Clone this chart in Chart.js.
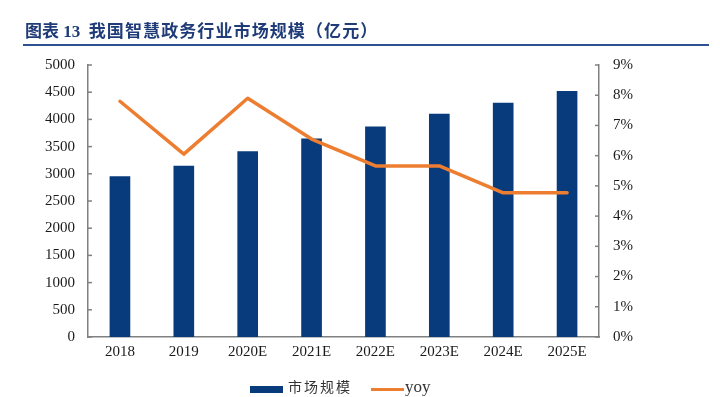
<!DOCTYPE html>
<html>
<head>
<meta charset="utf-8">
<script src="https://cdn.jsdelivr.net/npm/chart.js@4/dist/chart.umd.min.js"></script>
<style>
  html, body { margin: 0; padding: 0; background: #fff; }
  #wrap { position: relative; width: 720px; height: 397px; overflow: hidden; }
  #c { position: absolute; left: 0; top: 0; }
  #title { position: absolute; left: 25px; top: 21px; font-family: "Liberation Serif", "Noto Sans CJK SC", serif; font-weight: bold; font-size: 17px; line-height: 22px; color: #1F3C78; white-space: nowrap; }
  #title .cjk { letter-spacing: 1.1px; }
  #rule { position: absolute; left: 23px; top: 44px; width: 686px; height: 2px; background: #2E528F; }
  #legend { position: absolute; left: 250px; top: 376px; height: 20px; font-family: "Noto Sans CJK SC", sans-serif; font-size: 14px; color: #333; white-space: nowrap; }
  .sw { position: absolute; }
  .lt { position: absolute; top: 0; line-height: 20px; }
</style>
</head>
<body>
<div id="wrap">
  <canvas id="c" width="720" height="397"></canvas>
  <div id="title">图表 13 &nbsp;<span class="cjk">我国智慧政务行业市场规模（亿元）</span></div>
  <div id="rule"></div>
  <div id="legend">
    <div class="sw" style="left:0px; top:10px; width:33px; height:7px; background:#073B7B;"></div>
    <div class="lt" style="left:38px; letter-spacing:2px;">市场规模</div>
    <div class="sw" style="left:121px; top:12px; width:33px; height:3px; background:#ED7D31;"></div>
    <div class="lt" style="left:155px; top:1px; font-family:'Liberation Serif', serif; font-size:17px;">yoy</div>
  </div>
</div>
<script>
const categories = ["2018", "2019", "2020E", "2021E", "2022E", "2023E", "2024E", "2025E"];
const marketSize = [2950, 3140, 3410, 3645, 3865, 4100, 4300, 4515];
const yoy = [7.8, 6.05, 7.9, 6.55, 5.66, 5.66, 4.77, 4.77];
const leftMax = 5000, leftStep = 500;
const rightMax = 9, rightStep = 1;

const axisColor = '#808080';
const tickFont = { family: "'Liberation Serif', 'Times New Roman', serif", size: 15 };

const innerTicks = {
  id: 'innerTicks',
  afterDraw(chart) {
    const ctx = chart.ctx;
    ctx.save();
    ctx.strokeStyle = axisColor;
    ctx.lineWidth = 1.5;
    const ys = chart.scales.y, yr = chart.scales.y1;
    const area = chart.chartArea;
    ys.ticks.forEach((t, i) => {
      const p = ys.getPixelForTick(i);
      ctx.beginPath(); ctx.moveTo(area.left, p); ctx.lineTo(area.left + 4, p); ctx.stroke();
    });
    yr.ticks.forEach((t, i) => {
      const p = yr.getPixelForTick(i);
      ctx.beginPath(); ctx.moveTo(area.right - 4, p); ctx.lineTo(area.right, p); ctx.stroke();
    });
    ctx.restore();
  }
};

new Chart(document.getElementById('c'), {
  data: {
    labels: categories,
    datasets: [
      {
        type: 'line', label: 'yoy', data: yoy, yAxisID: 'y1', order: 0,
        borderColor: '#ED7D31', borderWidth: 3.5, pointRadius: 0, tension: 0,
        borderCapStyle: 'round', borderJoinStyle: 'round', fill: false
      },
      {
        type: 'bar', label: '市场规模', data: marketSize, yAxisID: 'y', order: 1,
        backgroundColor: '#073B7B', barThickness: 20
      }
    ]
  },
  options: {
    responsive: false,
    animation: false,
    devicePixelRatio: 1,
    layout: { padding: { left: 0, right: 0, top: 65, bottom: 30 } },
    plugins: { legend: { display: false }, tooltip: { enabled: false } },
    scales: {
      x: {
        offset: true,
        grid: { display: false, drawTicks: false },
        border: { display: true, color: axisColor, width: 1.5 },
        ticks: { font: tickFont, color: '#1a1a1a', padding: 6, maxRotation: 0 },
        afterFit(s) { s.height = 30; }
      },
      y: {
        position: 'left', min: 0, max: leftMax,
        grid: { display: false, drawTicks: false },
        border: { display: true, color: axisColor, width: 1.5 },
        ticks: { stepSize: leftStep, font: tickFont, color: '#1a1a1a', padding: 13,
          callback: v => String(v) },
        afterFit(s) { s.width = 88; }
      },
      y1: {
        position: 'right', min: 0, max: rightMax,
        grid: { display: false, drawTicks: false },
        border: { display: true, color: axisColor, width: 1.5 },
        ticks: { stepSize: rightStep, font: tickFont, color: '#1a1a1a', padding: 14,
          callback: v => v + '%' },
        afterFit(s) { s.width = 121; }
      }
    }
  },
  plugins: [innerTicks]
});
</script>
</body>
</html>
